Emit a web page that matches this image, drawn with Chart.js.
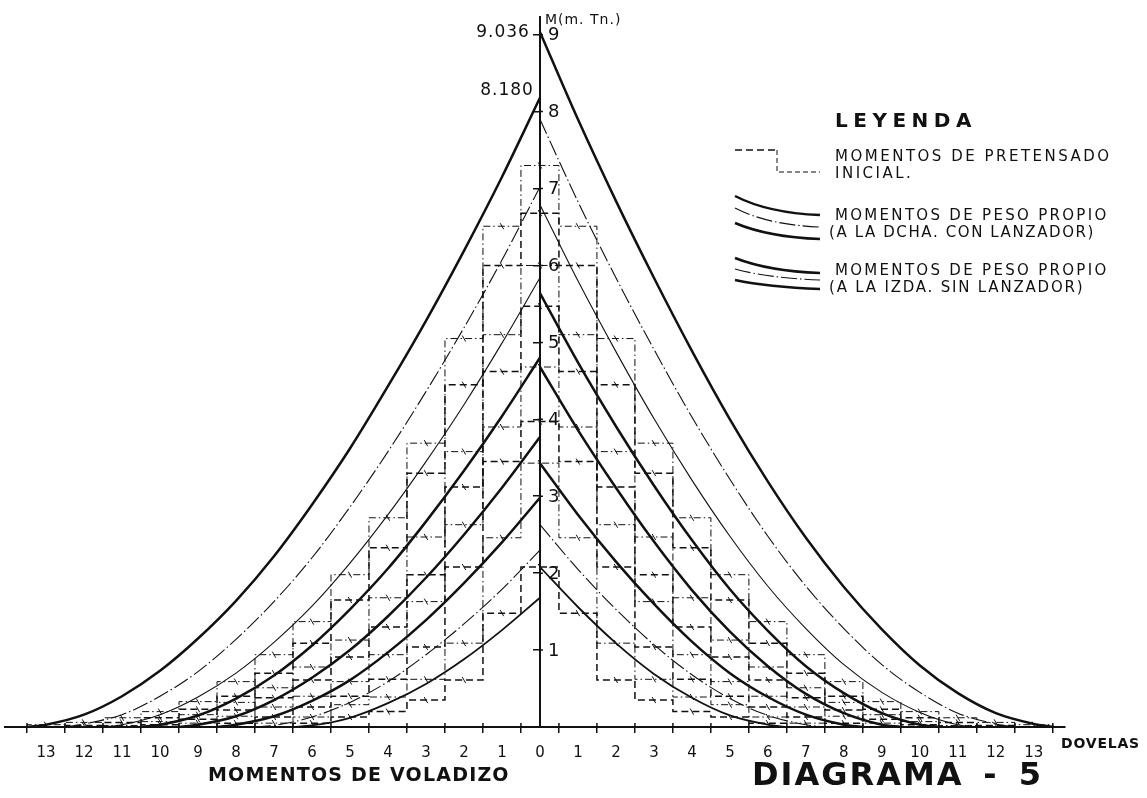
<!DOCTYPE html>
<html>
<head>
<meta charset="utf-8">
<script src="https://cdn.jsdelivr.net/npm/chart.js@4.4.1/dist/chart.umd.min.js"></script>
<style>
  html, body { margin: 0; padding: 0; background: #fff; }
  #wrap { width: 1147px; height: 798px; }
</style>
</head>
<body>
<div id="wrap"><canvas id="c" width="1147" height="798"></canvas></div>
<script>
// Self-weight cantilever moments (m·Tn) at each segment joint, from the pier axis outwards.
// Right side: with launching gantry.  Left side: without gantry.
const rightCurve1 = [9.036, 7.90, 6.84, 5.84, 4.89, 4.00, 3.19, 2.46, 1.82, 1.27, 0.80, 0.44, 0.18, 0.04];
const rightCurve2 = [7.90, 6.83, 5.84, 4.91, 4.03, 3.22, 2.48, 1.83, 1.28, 0.81, 0.45, 0.18, 0.04];
const rightCurve3 = [6.79, 5.80, 4.88, 4.01, 3.21, 2.48, 1.83, 1.28, 0.81, 0.45, 0.19, 0.03];
const rightCurve4 = [5.64, 4.74, 3.91, 3.14, 2.43, 1.79, 1.25, 0.79, 0.44, 0.18, 0.03];
const rightCurve5 = [4.68, 3.86, 3.11, 2.41, 1.78, 1.24, 0.79, 0.43, 0.18, 0.03];
const rightCurve6 = [3.43, 2.76, 2.15, 1.60, 1.11, 0.70, 0.39, 0.16, 0.03];
const rightCurve7 = [2.63, 2.05, 1.53, 1.07, 0.68, 0.37, 0.15, 0.03];
const rightCurve8 = [2.08, 1.56, 1.09, 0.69, 0.38, 0.15, 0.03];

const leftCurve1 = [8.18, 7.15, 6.19, 5.28, 4.43, 3.62, 2.89, 2.22, 1.64, 1.15, 0.73, 0.40, 0.16, 0.03];
const leftCurve2 = [7.02, 6.07, 5.19, 4.36, 3.58, 2.86, 2.20, 1.63, 1.14, 0.72, 0.40, 0.16, 0.04];
const leftCurve3 = [5.84, 4.99, 4.19, 3.45, 2.76, 2.13, 1.57, 1.10, 0.70, 0.39, 0.16, 0.03];
const leftCurve4 = [4.80, 4.04, 3.33, 2.67, 2.06, 1.53, 1.06, 0.67, 0.37, 0.15, 0.03];
const leftCurve5 = [3.77, 3.11, 2.50, 1.94, 1.44, 1.00, 0.64, 0.35, 0.14, 0.03];
const leftCurve6 = [2.98, 2.40, 1.87, 1.39, 0.97, 0.61, 0.34, 0.14, 0.03];
const leftCurve7 = [2.30, 1.79, 1.34, 0.94, 0.59, 0.32, 0.13, 0.02];
const leftCurve8 = [1.68, 1.26, 0.88, 0.56, 0.31, 0.12, 0.02];

// Tip of the cantilever (in segments) for each construction stage, moment = 0 there
const curveEnds = [13.5, 12.5, 11.5, 10.5, 9.5, 8.5, 7.5, 6.5];

// Initial prestress moments: one value per segment (0 = pier segment), symmetric
const prestress1 = [7.30, 6.51, 5.05, 3.69, 2.72, 1.98, 1.37, 0.94, 0.59, 0.33, 0.20, 0.12, 0.06, 0.03];
const prestress2 = [6.68, 6.00, 4.45, 3.30, 2.33, 1.65, 1.09, 0.70, 0.40, 0.23, 0.12, 0.06, 0.02];
const prestress3 = [6.00, 5.10, 3.58, 2.47, 1.68, 1.13, 0.78, 0.51, 0.32, 0.16, 0.07, 0.02];
const prestress4 = [5.47, 4.62, 3.12, 1.98, 1.30, 0.91, 0.61, 0.38, 0.22, 0.10, 0.03];
const prestress5 = [4.68, 3.90, 2.63, 1.63, 0.94, 0.59, 0.40, 0.26, 0.14, 0.05];
const prestress6 = [3.97, 3.45, 2.08, 1.04, 0.62, 0.40, 0.26, 0.13, 0.05];
const prestress7 = [3.43, 2.46, 1.09, 0.62, 0.39, 0.29, 0.13, 0.05];
const prestress8 = [2.08, 1.48, 0.61, 0.35, 0.20, 0.13, 0.05];

// Axis ticks
const dovelaLabels = [-13,-12,-11,-10,-9,-8,-7,-6,-5,-4,-3,-2,-1,0,1,2,3,4,5,6,7,8,9,10,11,12,13];
const jointTicks = [-13.5,-12.5,-11.5,-10.5,-9.5,-8.5,-7.5,-6.5,-5.5,-4.5,-3.5,-2.5,-1.5,-0.5,0.5,1.5,2.5,3.5,4.5,5.5,6.5,7.5,8.5,9.5,10.5,11.5,12.5,13.5];
const momentTicks = [1, 2, 3, 4, 5, 6, 7, 8, 9];

const X_MIN = -14.08, X_MAX = 13.82, Y_MAX = 9.23;
const INK = '#111';

const THICK = { borderWidth: 2.5, borderDash: [] };
const MEDIUM = { borderWidth: 1.8, borderDash: [] };
const THIN = { borderWidth: 1.1, borderDash: [] };
const DASHDOT = { borderWidth: 1.1, borderDash: [16, 3, 1.5, 3] };
const curveStyles = [THICK, DASHDOT, THIN, THICK, THICK, THICK, DASHDOT, MEDIUM];

function curvePoints(values, end, side) {
  const pts = values.map((v, i) => ({ x: side * i, y: v }));
  pts.push({ x: side * end, y: 0 });
  return side < 0 ? pts.reverse() : pts;
}

function curveDataset(values, end, side, style) {
  return {
    data: curvePoints(values, end, side),
    borderColor: INK,
    borderWidth: style.borderWidth,
    borderDash: style.borderDash,
    cubicInterpolationMode: 'monotone',
    pointRadius: 0,
    fill: false,
    order: 1
  };
}

function stairDataset(values, style) {
  const n = values.length - 1;
  const pts = [], radii = [];
  pts.push({ x: -(n + 0.5), y: 0 }, { x: -(n + 0.5), y: values[n] });
  radii.push(0, 0);
  for (let k = -n; k <= n; k++) {
    pts.push({ x: k, y: values[Math.abs(k)] });
    radii.push(3.5);
  }
  pts.push({ x: n + 0.5, y: values[n] }, { x: n + 0.5, y: 0 });
  radii.push(0, 0);
  return {
    data: pts,
    stepped: 'middle',
    borderColor: INK,
    borderWidth: style.w,
    borderDash: style.dash,
    pointRadius: radii,
    pointStyle: 'line',
    rotation: 60,
    pointBorderColor: INK,
    pointBorderWidth: 1,
    fill: false,
    order: 2
  };
}

const rightCurves = [rightCurve1, rightCurve2, rightCurve3, rightCurve4, rightCurve5, rightCurve6, rightCurve7, rightCurve8];
const leftCurves = [leftCurve1, leftCurve2, leftCurve3, leftCurve4, leftCurve5, leftCurve6, leftCurve7, leftCurve8];
const prestressStages = [prestress1, prestress2, prestress3, prestress4, prestress5, prestress6, prestress7, prestress8];

const DASHED = { w: 1.5, dash: [7, 4] };
const DOTDASH = { w: 1, dash: [7, 3, 1.5, 3] };

const datasets = [];
prestressStages.forEach((vals, i) => datasets.push(stairDataset(vals, i % 2 === 0 ? DOTDASH : DASHED)));
rightCurves.forEach((vals, i) => datasets.push(curveDataset(vals, curveEnds[i], 1, curveStyles[i])));
leftCurves.forEach((vals, i) => datasets.push(curveDataset(vals, curveEnds[i], -1, curveStyles[i])));

function spacedText(ctx, text, x, y, font, spacing, align) {
  ctx.save();
  ctx.font = font;
  ctx.letterSpacing = spacing + 'px';
  ctx.textAlign = align || 'left';
  ctx.textBaseline = 'middle';
  ctx.fillStyle = INK;
  ctx.fillText(text, x, y);
  ctx.restore();
}

const annotations = {
  id: 'annotations',
  afterDraw(chart) {
    const ctx = chart.ctx;
    const xs = chart.scales.x, ys = chart.scales.y;
    const x0 = xs.getPixelForValue(0);
    const y0 = ys.getPixelForValue(0);

    // short marks above the baseline so the joint ticks cross the axis
    ctx.save();
    ctx.strokeStyle = INK; ctx.lineWidth = 1.5;
    ctx.beginPath();
    jointTicks.forEach(v => { const px = xs.getPixelForValue(v); ctx.moveTo(px, y0); ctx.lineTo(px, y0 - 4); });
    momentTicks.forEach(v => { const py = ys.getPixelForValue(v); ctx.moveTo(x0, py); ctx.lineTo(x0 + 3, py); });
    ctx.stroke();
    ctx.restore();

    // y tick labels, to the right of the axis
    momentTicks.forEach(v => spacedText(ctx, String(v), x0 + 8, ys.getPixelForValue(v) + 1, '18px "DejaVu Sans"', 0));
    spacedText(ctx, 'M(m. Tn.)', x0 + 5, 20, '14px "DejaVu Sans"', 1);

    // peak values
    spacedText(ctx, rightCurve1[0].toFixed(3), x0 - 10, ys.getPixelForValue(rightCurve1[0]) + 1, '17px "DejaVu Sans"', 1, 'right');
    spacedText(ctx, leftCurve1[0].toFixed(3), x0 - 6, ys.getPixelForValue(leftCurve1[0]) - 7, '17px "DejaVu Sans"', 1, 'right');

    // axis caption and titles
    spacedText(ctx, 'DOVELAS', 1061, 744, 'bold 14px "DejaVu Sans"', 0.8);
    spacedText(ctx, 'MOMENTOS DE VOLADIZO', 208, 776, 'bold 19px "DejaVu Sans"', 1.2);
    spacedText(ctx, 'DIAGRAMA', 752, 777, 'bold 32px "DejaVu Sans"', 2);
    spacedText(ctx, '-', 990, 777, 'bold 32px "DejaVu Sans"', 0, 'center');
    spacedText(ctx, '5', 1030, 777, 'bold 32px "DejaVu Sans"', 0, 'center');

    // legend
    spacedText(ctx, 'LEYENDA', 835, 122, 'bold 20px "DejaVu Sans"', 5.5);
    const lf = '15px "DejaVu Sans"';
    spacedText(ctx, 'MOMENTOS DE PRETENSADO', 835, 157, lf, 2.5);
    spacedText(ctx, 'INICIAL.', 835, 174, lf, 2.5);
    spacedText(ctx, 'MOMENTOS DE PESO PROPIO', 835, 216, lf, 2.3);
    spacedText(ctx, '(A LA DCHA. CON LANZADOR)', 829, 233, lf, 1.6);
    spacedText(ctx, 'MOMENTOS DE PESO PROPIO', 835, 271, lf, 2.3);
    spacedText(ctx, '(A LA IZDA. SIN LANZADOR)', 829, 288, lf, 1.8);

    ctx.save();
    ctx.strokeStyle = INK;
    // prestress symbol
    ctx.lineWidth = 1.6; ctx.setLineDash([7, 4]);
    ctx.beginPath(); ctx.moveTo(735, 150); ctx.lineTo(777, 150); ctx.stroke();
    ctx.lineWidth = 1; ctx.setLineDash([5, 3]);
    ctx.beginPath(); ctx.moveTo(777, 150); ctx.lineTo(777, 172); ctx.lineTo(820, 172); ctx.stroke();

    const glyph = (y1, y2, w, dash) => {
      ctx.lineWidth = w; ctx.setLineDash(dash);
      ctx.beginPath(); ctx.moveTo(735, y1);
      ctx.quadraticCurveTo(768, y2 - 2, 820, y2);
      ctx.stroke();
    };
    glyph(196, 215, 2.5, []);
    glyph(208, 227, 1.1, [16, 3, 1.5, 3]);
    glyph(223, 239, 2.5, []);
    glyph(258, 273, 2.5, []);
    glyph(269, 280, 1.1, [16, 3, 1.5, 3]);
    glyph(280, 289, 2.5, []);
    ctx.restore();
  }
};

new Chart(document.getElementById('c'), {
  type: 'line',
  data: { datasets },
  options: {
    responsive: false,
    animation: false,
    layout: { padding: { left: 5, right: 82, top: 17, bottom: 71 } },
    plugins: { legend: { display: false }, tooltip: { enabled: false } },
    scales: {
      x: {
        type: 'linear', min: X_MIN, max: X_MAX,
        position: { y: 0 },
        afterFit(s) { s.height = 0; },
        afterBuildTicks(s) { s.ticks = jointTicks.map(v => ({ value: v })); },
        grid: { display: true, drawOnChartArea: false, drawTicks: true, tickLength: 5, color: INK, lineWidth: 1.5 },
        border: { display: true, color: INK, width: 2 },
        ticks: { display: false }
      },
      xLabels: {
        type: 'linear', axis: 'x', min: X_MIN, max: X_MAX,
        position: { y: 0 },
        afterFit(s) { s.height = 0; },
        afterBuildTicks(s) { s.ticks = dovelaLabels.map(v => ({ value: v })); },
        grid: { display: false },
        border: { display: false },
        ticks: {
          autoSkip: false, maxRotation: 0, padding: 9,
          color: INK, font: { family: 'DejaVu Sans', size: 15 },
          callback: v => String(Math.abs(v))
        }
      },
      y: {
        type: 'linear', min: 0, max: Y_MAX,
        position: { x: 0 },
        afterFit(s) { s.width = 0; },
        afterBuildTicks(s) { s.ticks = momentTicks.map(v => ({ value: v })); },
        grid: { display: true, drawOnChartArea: false, drawTicks: true, tickLength: 6, color: INK, lineWidth: 1.5 },
        border: { display: true, color: INK, width: 2 },
        ticks: { display: false }
      }
    }
  },
  plugins: [annotations]
});
</script>
</body>
</html>
